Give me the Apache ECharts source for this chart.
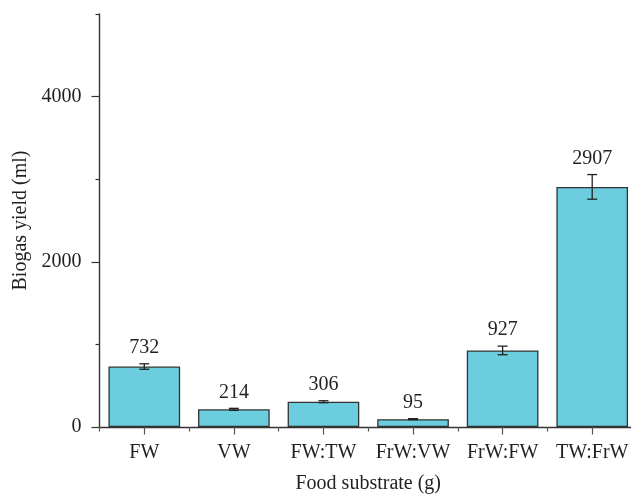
<!DOCTYPE html>
<html>
<head>
<meta charset="utf-8">
<script src="https://cdn.jsdelivr.net/npm/echarts@6/dist/echarts.min.js"></script>
<style>
  html, body { margin: 0; padding: 0; background: #fff; overflow: hidden; }
  #chart { width: 640px; height: 495px; }
</style>
</head>
<body>
<div id="chart"></div>
<script>
// Biogas yield per food substrate, with standard error bars
const categories = ['FW', 'VW', 'FW:TW', 'FrW:VW', 'FrW:FW', 'TW:FrW'];
const yieldMl = [732, 214, 306, 95, 927, 2907];
const errorMl = [33, 12, 12, 6, 52, 149];
const majorTicks = [0, 2000, 4000];
const minorTicks = [1000, 3000, 5000];

const FONT = '"Liberation Serif", "DejaVu Serif", serif';
const FS = 20;
const TEXT = '#231f20';
const LINE = '#333333';

const chart = echarts.init(document.getElementById('chart'), null, { renderer: 'canvas' });

chart.setOption({
  animation: false,
  grid: { left: 99.5, right: 3, top: 14, bottom: 68, containLabel: false, outerBoundsMode: 'none' },
  xAxis: [
    {
      type: 'category',
      data: categories,
      boundaryGap: true,
      name: 'Food substrate (g)',
      nameLocation: 'middle',
      nameGap: 47,
      nameTextStyle: { fontFamily: FONT, fontSize: FS, color: TEXT },
      axisLine: { lineStyle: { color: LINE, width: 1.4 } },
      axisTick: { show: true, alignWithLabel: false, length: 4.5, lineStyle: { color: '#555', width: 1.2 } },
      axisLabel: { interval: 0, hideOverlap: false, margin: 16, fontFamily: FONT, fontSize: FS, color: TEXT }
    },
    {
      type: 'category',
      data: categories,
      position: 'bottom',
      boundaryGap: true,
      axisLine: { show: false },
      axisTick: { show: true, interval: 0, alignWithLabel: true, length: 7.5, lineStyle: { color: '#555', width: 1.2 } },
      axisLabel: { show: false }
    }
  ],
  yAxis: [
    {
      type: 'value',
      min: 0,
      max: 5000,
      interval: 1000,
      name: 'Biogas yield (ml)',
      nameLocation: 'middle',
      nameGap: 69,
      nameTextStyle: { fontFamily: FONT, fontSize: FS, color: TEXT },
      splitLine: { show: false },
      axisLine: { show: true, lineStyle: { color: LINE, width: 1.4 } },
      axisTick: { show: true, length: 8, customValues: majorTicks, lineStyle: { color: LINE, width: 1.2 } },
      axisLabel: {
        margin: 18, customValues: majorTicks,
        formatter: function (v) { return String(v); },
        fontFamily: FONT, fontSize: FS, color: TEXT
      }
    },
    {
      type: 'value',
      min: 0,
      max: 5000,
      interval: 1000,
      position: 'left',
      splitLine: { show: false },
      axisLine: { show: false },
      axisTick: { show: true, length: 4, customValues: minorTicks, lineStyle: { color: LINE, width: 1.2 } },
      axisLabel: { show: false }
    }
  ],
  series: [
    {
      type: 'bar',
      data: yieldMl,
      barCategoryGap: '20%',
      itemStyle: { color: '#6bcddd', borderColor: '#333', borderWidth: 1.3 },
      z: 2
    },
    {
      // error bars plus value labels above them
      type: 'custom',
      data: yieldMl.map((v, i) => [i, v, errorMl[i]]),
      encode: { x: 0, y: 1 },
      z: 5,
      clip: false,
      renderItem: function (params, api) {
        const i = api.value(0);
        const v = api.value(1);
        const e = api.value(2);
        const hi = api.coord([i, v + e]);
        const lo = api.coord([i, v - e]);
        const half = 5;
        const style = { stroke: '#222', lineWidth: 1.3 };
        return {
          type: 'group',
          children: [
            { type: 'line', shape: { x1: hi[0], y1: hi[1], x2: lo[0], y2: lo[1] }, style: style },
            { type: 'line', shape: { x1: hi[0] - half, y1: hi[1], x2: hi[0] + half, y2: hi[1] }, style: style },
            { type: 'line', shape: { x1: lo[0] - half, y1: lo[1], x2: lo[0] + half, y2: lo[1] }, style: style },
            {
              type: 'text',
              style: {
                x: hi[0], y: hi[1] - 6,
                text: String(v),
                align: 'center', verticalAlign: 'bottom',
                font: FS + 'px ' + FONT,
                fill: TEXT
              }
            }
          ]
        };
      }
    }
  ]
});
</script>
</body>
</html>
